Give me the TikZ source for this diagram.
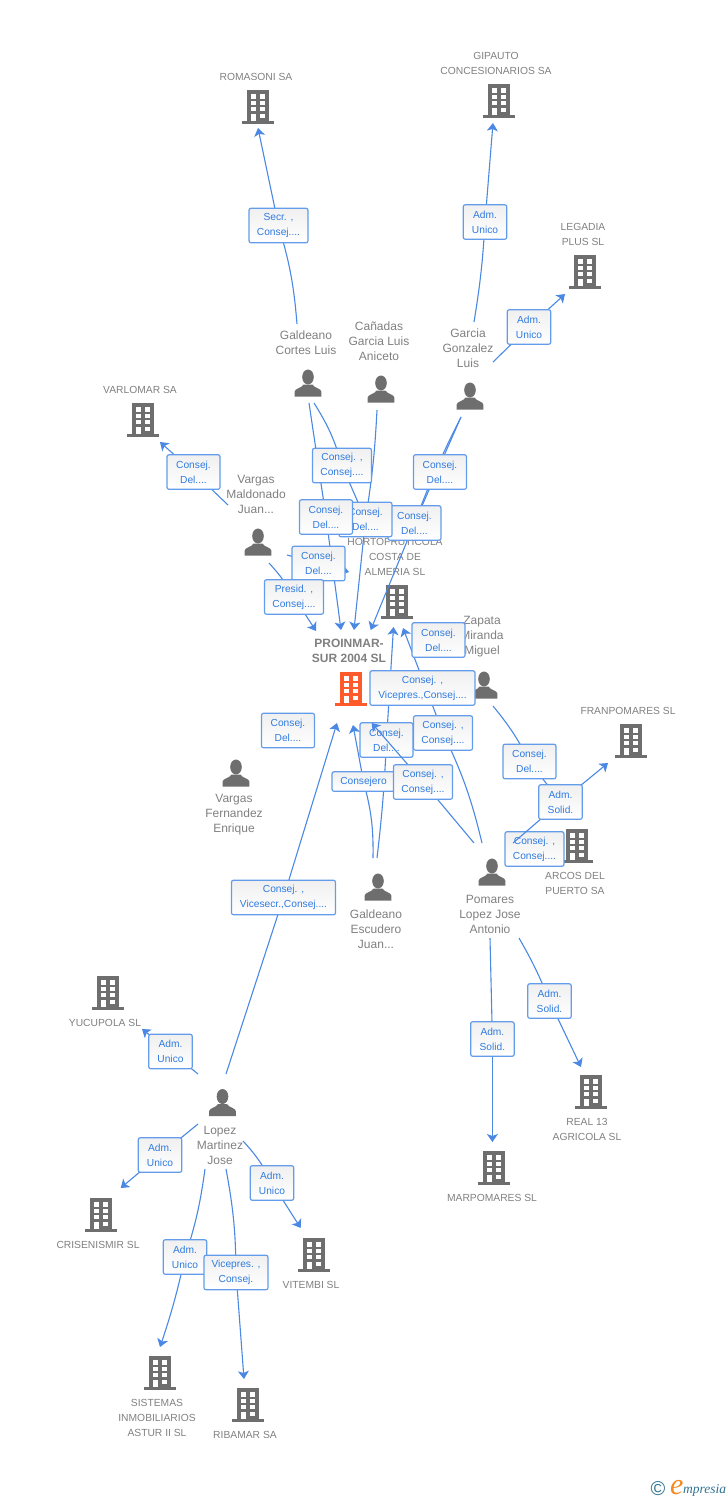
\documentclass[tikz,border=0pt]{standalone}
\usepackage{fontspec}
\setmainfont{Liberation Sans}
\newfontfamily\logofont{Liberation Serif}
\usetikzlibrary{arrows.meta}

\begin{document}
\begin{tikzpicture}[x=1pt, y=-1pt]

	% Colours
	\definecolor{linkcolor}{HTML}{4A88E4}
	\definecolor{edgecolor}{HTML}{639CEA}
	\definecolor{labelcolor}{HTML}{2F7BE0}
	\definecolor{namecolor}{HTML}{808080}
	\definecolor{iconcolor}{HTML}{6E6E6E}
	\definecolor{maincolor}{HTML}{FF5A2B}
	\definecolor{logocolor}{HTML}{2F7390}
	\definecolor{logoorange}{HTML}{F58A1F}

	% Styles
	\tikzstyle{iconbox}=[inner sep=0, minimum size=30]
	\tikzstyle{person}=[text=namecolor, align=center, inner sep=0, font=\fontsize{12}{15}\selectfont]
	\tikzstyle{company}=[text=namecolor, align=center, inner sep=0, yshift=-0.7, font=\fontsize{10.3}{15}\selectfont]
	\tikzstyle{linkbase}=[draw=edgecolor, line width=1.2pt, rounded corners=2pt, top color=black!6, bottom color=white,
		text=labelcolor, align=center, inner sep=0, minimum height=34.5, font=\fontsize{10.2}{15}\selectfont]
	\tikzstyle{linkbox}=[linkbase, execute at begin node={\rule{0pt}{11.5pt}}]
	\tikzstyle{narrowbox}=[linkbox, minimum width=43.5]
	\tikzstyle{shortbox}=[linkbox, minimum width=53]
	\tikzstyle{widebox}=[linkbox, minimum width=59]
	\tikzstyle{linkline}=[linkcolor, line width=1.1pt]
	\tikzstyle{linkarrow}=[linkline, -{Stealth[length=8pt, width=11pt, inset=2pt]}]

	% Icons
	\def\buildingicon#1#2#3#4{
		\node[iconbox] (#1) at (#2,#3) {};
		\begin{scope}[shift={(#2,#3)}]
			\fill[#4] (-11.3,-16.7) rectangle (11.3,14);
			\fill[#4] (-15.7,14) rectangle (15.7,16.7);
			\foreach \wy in {-12.7,-6,0}
				\foreach \wx in {-7.3,2.3}
					\fill[white] (\wx,\wy) rectangle ++(5,4.4);
			\fill[white] (2.3,6.7) rectangle ++(5,4.4);
			\fill[white] (-7.3,6.7) rectangle (-2.3,14);
		\end{scope}
	}
	\def\personicon#1#2#3{
		\node[iconbox] (#1) at (#2,#3) {};
		\begin{scope}[shift={(#2,#3)}]
			\fill[iconcolor] (0,-6) ellipse (5.8 and 7.5);
			\fill[iconcolor] (-13.3,13.5) -- (-13.3,8.5) .. controls (-13.3,5.5) and (-6,5) .. (-4.5,1.5)
				-- (4.5,1.5) .. controls (6,5) and (13.3,5.5) .. (13.3,8.5) -- (13.3,13.5) -- cycle;
		\end{scope}
	}

	%== Companies ============================================================
	\buildingicon{romasoni}{258}{107}{iconcolor}
	\buildingicon{gipauto}{499}{101}{iconcolor}
	\buildingicon{legadia}{585}{272}{iconcolor}
	\buildingicon{varlomar}{143}{420}{iconcolor}
	\buildingicon{horto}{397}{602}{iconcolor}
	\buildingicon{proinmar}{351}{689}{maincolor}
	\buildingicon{franpomares}{631}{741}{iconcolor}
	\buildingicon{arcos}{577}{846}{iconcolor}
	\buildingicon{yucupola}{108}{993}{iconcolor}
	\buildingicon{crisenismir}{101}{1215}{iconcolor}
	\buildingicon{vitembi}{314}{1255}{iconcolor}
	\buildingicon{marpomares}{494}{1168}{iconcolor}
	\buildingicon{realtrece}{591}{1092}{iconcolor}
	\buildingicon{sistemas}{160}{1373}{iconcolor}
	\buildingicon{ribamar}{248}{1405}{iconcolor}

	\node[company] (romasoninm) at (256,76) {ROMASONI SA};
	\node[company] (gipautonm) at (496,62.5) {GIPAUTO\\CONCESIONARIOS SA};
	\node[company] (legadianm) at (583,233.5) {LEGADIA\\PLUS SL};
	\node[company] (varlomarnm) at (140,389) {VARLOMAR SA};
	\node[company] (hortonm) at (395,556) {HORTOFRUTICOLA\\COSTA DE\\ALMERIA SL};
	\node[person, font=\fontsize{12}{15}\selectfont\bfseries] (proinmarnm) at (349,650.5) {PROINMAR-\\SUR 2004 SL};
	\node[company] (franpomaresnm) at (628,710) {FRANPOMARES SL};
	\node[company] (arcosnm) at (575,882.5) {ARCOS DEL\\PUERTO SA};
	\node[company] (yucupolanm) at (105,1022) {YUCUPOLA SL};
	\node[company] (crisenismirnm) at (98,1244) {CRISENISMIR SL};
	\node[company] (vitembinm) at (311,1284) {VITEMBI SL};
	\node[company] (marpomaresnm) at (492,1197) {MARPOMARES SL};
	\node[company] (realtrecenm) at (587,1128.5) {REAL 13\\AGRICOLA SL};
	\node[company] (sistemasnm) at (157,1417) {SISTEMAS\\INMOBILIARIOS\\ASTUR II SL};
	\node[company] (ribamarnm) at (245,1434) {RIBAMAR SA};

	%== People ===============================================================
	\personicon{cortes}{308}{383}
	\personicon{canadas}{381}{389}
	\personicon{garcia}{470}{396}
	\personicon{maldonado}{258}{542}
	\personicon{zapata}{484}{685}
	\personicon{fernandez}{236}{773}
	\personicon{escudero}{378}{887}
	\personicon{pomares}{492}{872}
	\personicon{lopez}{222.5}{1102.5}

	\node[person] (cortesnm) at (306,342.5) {Galdeano\\Cortes Luis};
	\node[person] (canadasnm) at (379,341) {Ca\~nadas\\Garcia Luis\\Aniceto};
	\node[person] (garcianm) at (468,348) {Garcia\\Gonzalez\\Luis};
	\node[person] (maldonadonm) at (256,494) {Vargas\\Maldonado\\Juan...};
	\node[person] (zapatanm) at (482,637) {Zapata\\Miranda\\Miguel};
	\node[person] (fernandeznm) at (234,815) {Vargas\\Fernandez\\Enrique};
	\node[person] (escuderonm) at (376,929) {Galdeano\\Escudero\\Juan...};
	\node[person] (pomaresnm) at (490,914) {Pomares\\Lopez Jose\\Antonio};
	\node[person] (lopeznm) at (220,1145) {Lopez\\Martinez\\Jose};

	%== Free ends of the links ===============================================
	\coordinate (cortes1) at (297,324);
	\coordinate (cortes2) at (309,403);
	\coordinate (cortes3) at (314,403);
	\coordinate (canadas1) at (377,410);
	\coordinate (garcia1) at (474,322);
	\coordinate (garcia2) at (493,362);
	\coordinate (garcia3) at (461,417);
	\coordinate (maldonado1) at (228,505);
	\coordinate (maldonado2) at (269,563);
	\coordinate (maldonado3) at (287,555);
	\coordinate (zapata1) at (493,706);
	\coordinate (escudero1) at (373,858);
	\coordinate (escudero2) at (377,858);
	\coordinate (pomares1) at (482,843);
	\coordinate (pomares2) at (474,843);
	\coordinate (pomares3) at (513,843);
	\coordinate (pomares4) at (490,938);
	\coordinate (pomares5) at (519,938);
	\coordinate (lopez1) at (226,1074);
	\coordinate (lopez2) at (198,1074);
	\coordinate (lopez3) at (198,1124);
	\coordinate (lopez4) at (243,1141);
	\coordinate (lopez5) at (205,1169);
	\coordinate (lopez6) at (226,1169);

	\coordinate (romasonitip) at (258,128);
	\coordinate (gipautotip) at (493,123);
	\coordinate (legadiatip) at (565,294);
	\coordinate (varlomartip) at (160,442);
	\coordinate (hortotip1) at (349,572);
	\coordinate (hortotip2) at (393.5,627);
	\coordinate (hortotip3) at (403,628);
	\coordinate (topin1) at (316,631);
	\coordinate (topin2) at (341,630);
	\coordinate (topin3) at (354,630);
	\coordinate (topin4) at (370.7,630);
	\coordinate (botin1) at (337,723);
	\coordinate (botin2) at (353,725);
	\coordinate (botin3) at (371.7,723);
	\coordinate (frantip) at (608,763);
	\coordinate (martip) at (492.4,1142);
	\coordinate (realtip) at (581,1067);
	\coordinate (yucupolatip) at (142,1029);
	\coordinate (crisenismirtip) at (120.7,1188);
	\coordinate (vitembitip) at (300.7,1228);
	\coordinate (sistemastip) at (160,1347);
	\coordinate (ribamartip) at (244,1379);

	% Links under the labels
	\draw[linkline] (cortes1) to[bend right=6] (278.5,225.5) coordinate (secr);
	\draw[linkarrow] (secr) -- (romasonitip);
	\draw[linkline] (garcia1) to[bend right=3] (485,222) coordinate (admg);
	\draw[linkarrow] (admg) -- (gipautotip);
	\draw[linkline] (garcia2) -- (529,327) coordinate (adml);
	\draw[linkarrow] (adml) -- (legadiatip);
	\draw[linkline] (maldonado1) -- (193.5,472) coordinate (delv);
	\draw[linkarrow] (delv) -- (varlomartip);

	\draw[linkline] (cortes3) to[bend left=8] (342,465.5) coordinate (cons);
	\draw[linkline] (cons) -- (365.5,519.5) coordinate (delc);
	\draw[linkline] (cortes2) -- (326,517) coordinate (dela);
	\draw[linkarrow] (dela) -- (topin2);
	\draw[linkline] (canadas1) to[bend left=3] (delc);
	\draw[linkarrow] (delc) -- (topin3);
	\draw[linkline] (garcia3) -- (414.5,523) coordinate (delb);
	\draw[linkline] (garcia3) to[bend right=3] (delb);
	\draw[linkarrow] (delb) -- (topin4);

	\draw[linkline] (maldonado2) to[bend left=6] (294,597) coordinate (pres);
	\draw[linkarrow] (pres) -- (topin1);
	\draw[linkline] (maldonado3) -- (318.5,563.5) coordinate (deld);
	\draw[linkarrow] (deld) -- (hortotip1);

	\draw[linkline] (escudero2) to[bend right=2] (386.5,740) coordinate (dele);
	\draw[linkarrow] (dele) -- (hortotip2);
	\draw[linkline] (pomares1) to[bend right=6] (443,733) coordinate (consb);
	\draw[linkarrow] (consb) -- (hortotip3);

	\draw[linkline] (zapata1) to[bend left=6] (529.5,761.5) coordinate (delf);
	\draw[linkline] (delf) -- (560.5,802) coordinate (sold);

	\draw[linkline] (lopez1) -- (283.5,897.5) coordinate (vices);
	\draw[linkarrow] (vices) -- (botin1);
	\draw[linkline] (escudero1) to[bend right=8] (363.5,781.5) coordinate (conse);
	\draw[linkarrow] (conse) -- (botin2);

	\draw[linkline] (pomares4) -- (492.4,1039) coordinate (solb);
	\draw[linkarrow] (solb) -- (martip);
	\draw[linkline] (pomares5) to[bend left=4] (549.5,1001) coordinate (solc);
	\draw[linkarrow] (solc) -- (realtip);

	\draw[linkline] (lopez2) -- (170.5,1051.5) coordinate (admy);
	\draw[linkarrow] (admy) -- (yucupolatip);
	\draw[linkline] (lopez3) -- (160,1155) coordinate (admc);
	\draw[linkarrow] (admc) -- (crisenismirtip);
	\draw[linkline] (lopez4) to[bend left=8] (272,1183) coordinate (admv);
	\draw[linkarrow] (admv) -- (vitembitip);
	\draw[linkline] (lopez5) to[bend left=5] (185,1257) coordinate (adms);
	\draw[linkarrow] (adms) to[bend left=3] (sistemastip);
	\draw[linkline] (lopez6) to[bend left=5] (236,1272.5) coordinate (vicep);
	\draw[linkarrow] (vicep) -- (ribamartip);

	%== Labels ===============================================================
	\node[widebox] (secrbox) at (secr) {Secr. ,\\Consej....};
	\node[narrowbox] (admgbox) at (admg) {Adm.\\Unico};
	\node[narrowbox] (admlbox) at (adml) {Adm.\\Unico};
	\node[shortbox] (delvbox) at (delv) {Consej.\\Del....};
	\node[widebox] (consbox) at (cons) {Consej. ,\\Consej....};
	\node[shortbox] (delgbox) at (440,472) {Consej.\\Del....};
	\node[shortbox] (delbbox) at (delb) {Consej.\\Del....};
	\node[shortbox] (delcbox) at (delc) {Consej.\\Del....};
	\node[shortbox] (delabox) at (dela) {Consej.\\Del....};
	\node[shortbox] (deldbox) at (deld) {Consej.\\Del....};
	\node[widebox] (presbox) at (pres) {Presid. ,\\Consej....};
	\node[shortbox] (delhbox) at (438.5,640) {Consej.\\Del....};
	\node[linkbox, minimum width=105] (vicebox) at (422.5,688) {Consej. ,\\Vicepres.,Consej....};
	\node[shortbox] (deliobox) at (288,730.5) {Consej.\\Del....};
	\node[shortbox] (delebox) at (dele) {Consej.\\Del....};
	\node[widebox] (consbbox) at (consb) {Consej. ,\\Consej....};
	\node[shortbox] (delfbox) at (delf) {Consej.\\Del....};
	\node[widebox] (consabox) at (534.5,849) {Consej. ,\\Consej....};
	\node[linkbox, minimum width=104] (vicesbox) at (vices) {Consej. ,\\Vicesecr.,Consej....};
	\node[narrowbox] (solbbox) at (solb) {Adm.\\Solid.};
	\node[narrowbox] (solcbox) at (solc) {Adm.\\Solid.};
	\node[narrowbox] (admybox) at (admy) {Adm.\\Unico};
	\node[narrowbox] (admcbox) at (admc) {Adm.\\Unico};
	\node[narrowbox] (admvbox) at (admv) {Adm.\\Unico};
	\node[narrowbox] (admsbox) at (adms) {Adm.\\Unico};
	\node[linkbox, minimum width=64] (vicepbox) at (vicep) {Vicepres. ,\\Consej.};

	% Links over the labels
	\draw[linkline] (pomares3) -- (sold);
	\draw[linkarrow] (sold) -- (frantip);
	\draw[linkline] (pomares2) -- (423,782) coordinate (consc);
	\draw[linkarrow] (consc) -- (botin3);

	\node[narrowbox] (soldbox) at (sold) {Adm.\\Solid.};
	\node[linkbase, minimum width=63, minimum height=19.5] (consebox) at (conse) {Consejero};
	\node[widebox] (conscbox) at (consc) {Consej. ,\\Consej....};

	%== Logo =================================================================
	\node[text=logocolor, inner sep=0, font=\fontsize{20}{20}\selectfont] (logoc) at (658,1489) {\textcopyright};
	\node[text=logoorange, inner sep=0, anchor=base west, font=\logofont\itshape\fontsize{30}{30}\selectfont] (logoe) at (670,1494) {e};
	\node[text=logocolor, inner sep=0, anchor=base west, font=\logofont\itshape\fontsize{13.5}{13.5}\selectfont] (logot) at (683,1493) {mpresia};

	\useasboundingbox (0,0) rectangle (728,1500);

\end{tikzpicture}
\end{document}
